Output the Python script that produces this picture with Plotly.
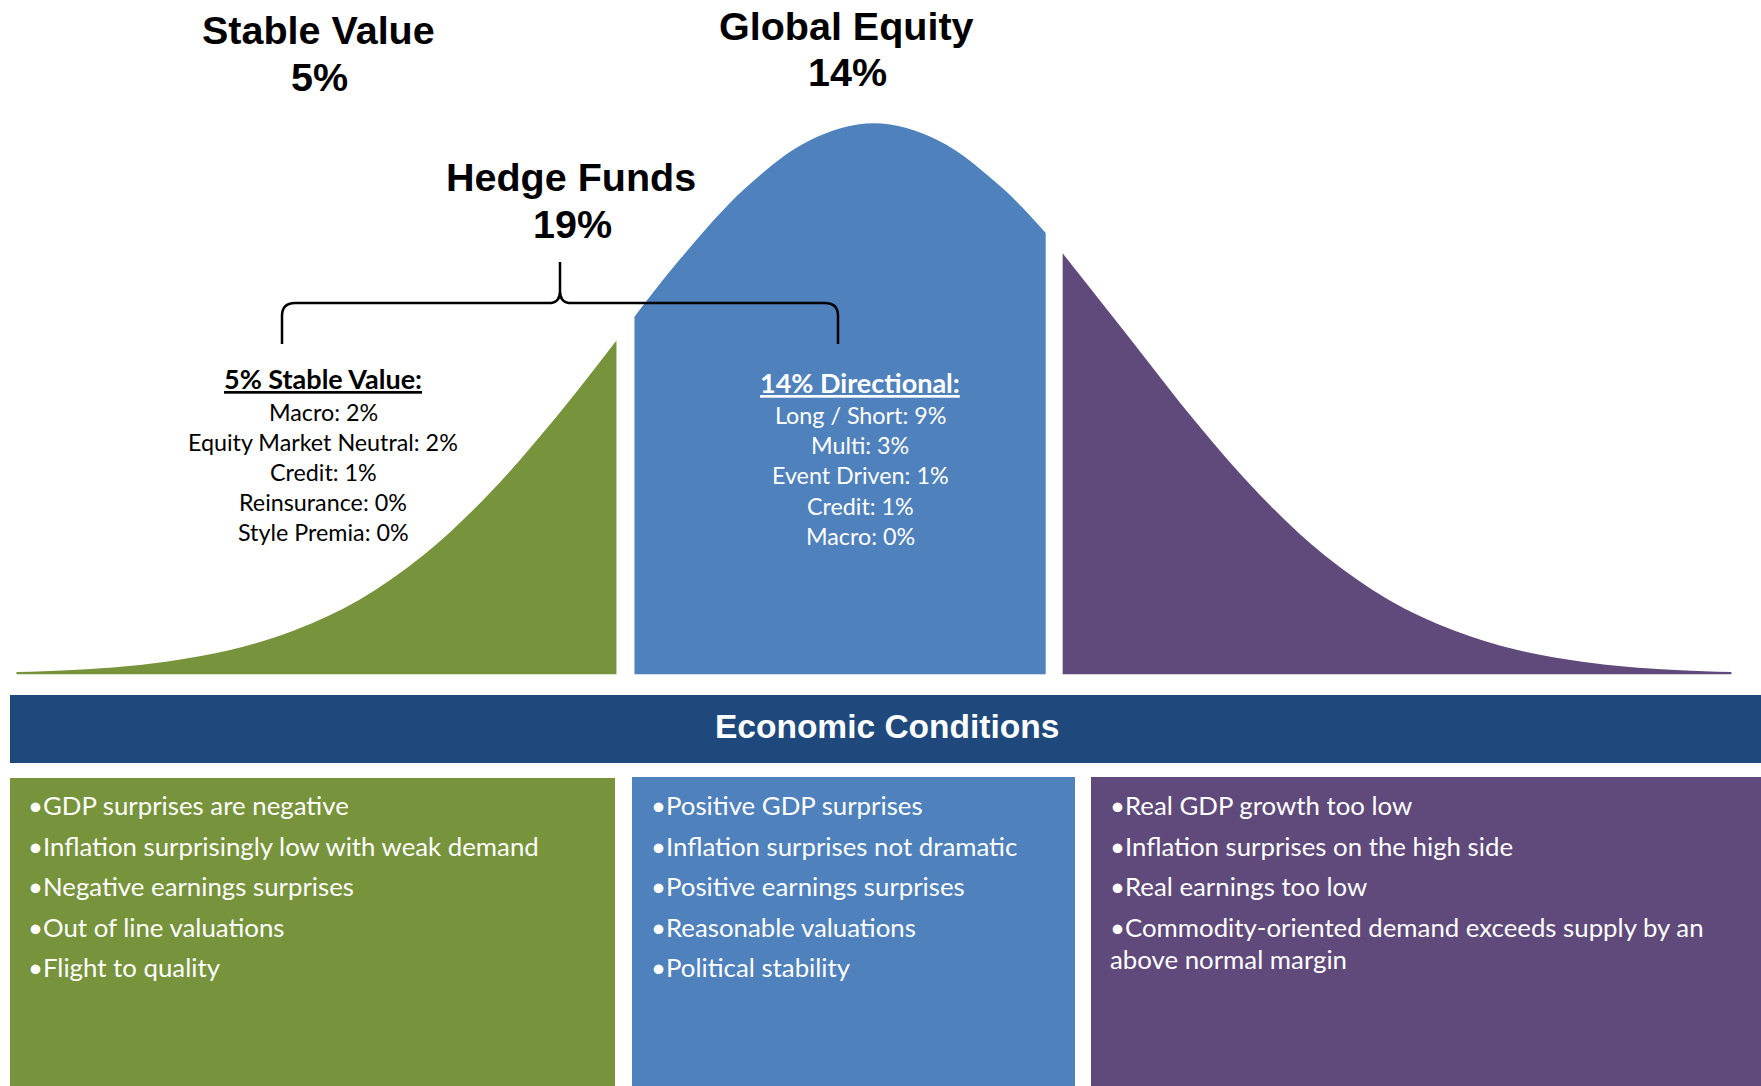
import plotly.graph_objects as go

W, H = 1761, 1086

# ---------------- data ----------------
# bell-curve outline, x in standard-deviation units, height with peak = 100
green_x = [-3.33, -3.0, -2.75, -2.5, -2.25, -2.0, -1.75, -1.5, -1.25, -1.0]
green_y = [0.4, 1.1, 2.3, 4.4, 8.0, 13.5, 21.6, 32.5, 45.8, 60.6]
blue_x = [-0.93, -0.75, -0.5, -0.25, 0.0, 0.25, 0.5, 0.667]
blue_y = [64.9, 75.5, 88.2, 96.9, 100.0, 96.9, 88.2, 80.1]
purple_x = [0.733, 1.0, 1.25, 1.5, 1.75, 2.0, 2.25, 2.5, 2.75, 3.0, 3.33]
purple_y = [76.4, 60.6, 45.8, 32.5, 21.6, 13.5, 8.0, 4.4, 2.3, 1.1, 0.4]

title_names = ["Stable Value", "Hedge Funds", "Global Equity"]
title_values = ["5%", "19%", "14%"]

stable_header = "5% Stable Value:"
stable_items = ["Macro: 2%", "Equity Market Neutral: 2%", "Credit: 1%",
                "Reinsurance: 0%", "Style Premia: 0%"]
directional_header = "14% Directional:"
directional_items = ["Long / Short: 9%", "Multi: 3%", "Event Driven: 1%",
                     "Credit: 1%", "Macro: 0%"]

banner_title = "Economic Conditions"
green_bullets = ["GDP surprises are negative",
                 "Inflation surprisingly low with weak demand",
                 "Negative earnings surprises",
                 "Out of line valuations",
                 "Flight to quality"]
blue_bullets = ["Positive GDP surprises",
                "Inflation surprises not dramatic",
                "Positive earnings surprises",
                "Reasonable valuations",
                "Political stability"]
purple_bullets = ["Real GDP growth too low",
                  "Inflation surprises on the high side",
                  "Real earnings too low",
                  "Commodity-oriented demand exceeds supply by an<br>above normal margin"]

# ---------------- styles ----------------
GREEN = "#77933C"
BLUE = "#4F81BD"
PURPLE = "#604A7B"
NAVY = "#1F497D"
ARIAL = "Liberation Sans, Arial, sans-serif"
CALIBRI = "Lato, Open Sans, sans-serif"


def px(x):
    return x / W


def py(y):
    return 1 - y / H


fig = go.Figure()
for xs, ys, col in [(green_x, green_y, GREEN), (blue_x, blue_y, BLUE),
                    (purple_x, purple_y, PURPLE)]:
    fig.add_trace(go.Scatter(
        x=xs, y=ys, mode="lines",
        line=dict(width=0, shape="spline", color=col),
        fill="tozeroy", fillcolor=col,
        hoverinfo="skip", showlegend=False))

shapes = []
# banner and condition boxes (pixel boxes -> paper)
for (x0, y0, x1, y1, col) in [(10, 695, 1761, 763, NAVY),
                              (10, 778, 615, 1086, GREEN),
                              (632, 777, 1075, 1086, BLUE),
                              (1091, 777, 1761, 1086, PURPLE)]:
    shapes.append(dict(type="rect", xref="paper", yref="paper",
                       x0=px(x0), x1=px(x1), y0=py(y1), y1=py(y0),
                       fillcolor=col, line=dict(width=0), layer="below"))

# curly brace
pts = [("M", 282, 344), ("L", 282, 316), ("Q", 282, 303, 295, 303),
       ("L", 551, 303), ("Q", 560, 302, 560, 291), ("L", 560, 262),
       ("L", 560, 291), ("Q", 560, 302, 569, 303), ("L", 825, 303),
       ("Q", 838, 303, 838, 316), ("L", 838, 344)]
path = ""
for p in pts:
    cmd = p[0]
    coords = p[1:]
    s = []
    for i in range(0, len(coords), 2):
        s.append(f"{px(coords[i]):.5f},{py(coords[i+1]):.5f}")
    path += cmd + " " + " ".join(s) + " "
shapes.append(dict(type="path", xref="paper", yref="paper", path=path.strip(),
                   line=dict(color="black", width=2.5)))

annotations = []


def txt(text, x, y, size, family, color="black", xanchor="center"):
    annotations.append(dict(
        x=px(x), y=py(y), xref="paper", yref="paper", text=text,
        showarrow=False, xanchor=xanchor, yanchor="middle",
        borderpad=0, borderwidth=0,
        font=dict(family=family, size=size, color=color)))


# big titles
title_pos = [(318, 30, 77), (571, 177, 224), (846, 26, 72)]
for name, val, (tx, y1, y2) in zip(title_names, title_values, title_pos):
    txt(f"<b>{name}</b>", tx, y1, 39.5, ARIAL)
    txt(f"<b>{val}</b>", tx + 1, y2, 39.5, ARIAL)

# hedge fund breakdowns
txt(f"<b><u>{stable_header}</u></b>", 323, 379, 27, CALIBRI)
for i, item in enumerate(stable_items):
    txt(item, 323, 412 + 30.1 * i, 23.3, CALIBRI)
txt(f"<b><u>{directional_header}</u></b>", 860, 382, 27, CALIBRI, "white")
for i, item in enumerate(directional_items):
    txt(item, 860, 414.5 + 30.4 * i, 23.3, CALIBRI, "white")

# banner
txt(f"<b>{banner_title}</b>", 887, 726, 33.5, ARIAL, "white")

# bullets
for bullets, bx in [(green_bullets, 28), (blue_bullets, 651), (purple_bullets, 1110)]:
    y = 805
    for b in bullets:
        parts = b.split("<br>")
        for j, part in enumerate(parts):
            t = ("\u2022" + part) if j == 0 else part
            txt(t, bx, y + 32.5 * j, 25.8, CALIBRI, "white", "left")
        y += 40.5 + 32.5 * (len(parts) - 1)

fig.update_layout(
    width=W, height=H,
    margin=dict(l=0, r=0, t=0, b=0),
    paper_bgcolor="white", plot_bgcolor="white",
    xaxis=dict(range=[-3.394, 3.445], visible=False, fixedrange=True, domain=[0, 1]),
    yaxis=dict(range=[-74.72, 122.38], visible=False, fixedrange=True, domain=[0, 1]),
    shapes=shapes, annotations=annotations, showlegend=False)

fig.write_html("out.html",
               config={"displayModeBar": False, "staticPlot": True},
               post_script="document.body.style.margin='0px';"
                           "document.body.style.overflow='hidden';")
